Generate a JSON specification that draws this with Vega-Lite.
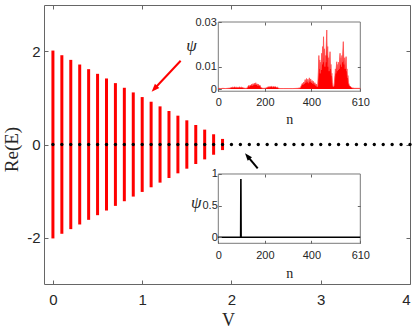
{
  "$schema": "https://vega.github.io/schema/vega-lite/v6.json",
  "width": 366,
  "height": 279,
  "autosize": "none",
  "padding": {"left": 44, "top": 5, "right": 5, "bottom": 44},
  "background": "white",
  "config": {
    "view": {"stroke": null},
    "axis": {
      "grid": false,
      "labelFont": "Liberation Sans",
      "labelColor": "#262626",
      "tickColor": "#666666",
      "domainColor": "#666666",
      "titleFont": "Liberation Serif",
      "titleFontWeight": "normal",
      "titleColor": "#262626"
    }
  },
  "datasets": {
    "bars": [
      {"V": 0.0, "lo": -2.02, "hi": 2.02},
      {"V": 0.1, "lo": -1.92, "hi": 1.92},
      {"V": 0.2, "lo": -1.82, "hi": 1.82},
      {"V": 0.3, "lo": -1.72, "hi": 1.72},
      {"V": 0.4, "lo": -1.62, "hi": 1.62},
      {"V": 0.5, "lo": -1.52, "hi": 1.52},
      {"V": 0.6, "lo": -1.42, "hi": 1.42},
      {"V": 0.7, "lo": -1.32, "hi": 1.32},
      {"V": 0.8, "lo": -1.22, "hi": 1.22},
      {"V": 0.9, "lo": -1.12, "hi": 1.12},
      {"V": 1.0, "lo": -1.02, "hi": 1.02},
      {"V": 1.1, "lo": -0.92, "hi": 0.92},
      {"V": 1.2, "lo": -0.82, "hi": 0.82},
      {"V": 1.3, "lo": -0.72, "hi": 0.72},
      {"V": 1.4, "lo": -0.62, "hi": 0.62},
      {"V": 1.5, "lo": -0.52, "hi": 0.52},
      {"V": 1.6, "lo": -0.42, "hi": 0.42},
      {"V": 1.7, "lo": -0.32, "hi": 0.32},
      {"V": 1.8, "lo": -0.22, "hi": 0.22},
      {"V": 1.9, "lo": -0.12, "hi": 0.12}
    ],
    "dots": [
      {"V": 0.0, "E": 0}, {"V": 0.1, "E": 0}, {"V": 0.2, "E": 0}, {"V": 0.3, "E": 0}, {"V": 0.4, "E": 0},
      {"V": 0.5, "E": 0}, {"V": 0.6, "E": 0}, {"V": 0.7, "E": 0}, {"V": 0.8, "E": 0}, {"V": 0.9, "E": 0},
      {"V": 1.0, "E": 0}, {"V": 1.1, "E": 0}, {"V": 1.2, "E": 0}, {"V": 1.3, "E": 0}, {"V": 1.4, "E": 0},
      {"V": 1.5, "E": 0}, {"V": 1.6, "E": 0}, {"V": 1.7, "E": 0}, {"V": 1.8, "E": 0}, {"V": 1.9, "E": 0},
      {"V": 2.0, "E": 0}, {"V": 2.1, "E": 0}, {"V": 2.2, "E": 0}, {"V": 2.3, "E": 0}, {"V": 2.4, "E": 0},
      {"V": 2.5, "E": 0}, {"V": 2.6, "E": 0}, {"V": 2.7, "E": 0}, {"V": 2.8, "E": 0}, {"V": 2.9, "E": 0},
      {"V": 3.0, "E": 0}, {"V": 3.1, "E": 0}, {"V": 3.2, "E": 0}, {"V": 3.3, "E": 0}, {"V": 3.4, "E": 0},
      {"V": 3.5, "E": 0}, {"V": 3.6, "E": 0}, {"V": 3.7, "E": 0}, {"V": 3.8, "E": 0}, {"V": 3.9, "E": 0},
      {"V": 4.0, "E": 0}
    ],
    "psi1": [
      {"n": 0, "psi": 0.0003}, {"n": 10, "psi": 0.0002}, {"n": 20, "psi": 0.0003}, {"n": 30, "psi": 0.0002},
      {"n": 40, "psi": 0.0003}, {"n": 50, "psi": 0.0004}, {"n": 55, "psi": 0.0006}, {"n": 60, "psi": 0.0008},
      {"n": 65, "psi": 0.0007}, {"n": 70, "psi": 0.0009}, {"n": 75, "psi": 0.0007}, {"n": 80, "psi": 0.0008},
      {"n": 85, "psi": 0.0006}, {"n": 90, "psi": 0.0009}, {"n": 95, "psi": 0.0007}, {"n": 100, "psi": 0.0008},
      {"n": 105, "psi": 0.0006}, {"n": 110, "psi": 0.0004}, {"n": 118, "psi": 0.0003}, {"n": 125, "psi": 0.0005},
      {"n": 128, "psi": 0.0012}, {"n": 131, "psi": 0.0016}, {"n": 134, "psi": 0.0011}, {"n": 137, "psi": 0.0018},
      {"n": 140, "psi": 0.0014}, {"n": 143, "psi": 0.0021}, {"n": 146, "psi": 0.0015}, {"n": 149, "psi": 0.0024},
      {"n": 152, "psi": 0.0017}, {"n": 155, "psi": 0.0026}, {"n": 158, "psi": 0.0019}, {"n": 161, "psi": 0.0028},
      {"n": 164, "psi": 0.0018}, {"n": 167, "psi": 0.0023}, {"n": 170, "psi": 0.0015}, {"n": 173, "psi": 0.0021},
      {"n": 176, "psi": 0.0013}, {"n": 179, "psi": 0.0017}, {"n": 182, "psi": 0.0009}, {"n": 186, "psi": 0.0004},
      {"n": 195, "psi": 0.0003}, {"n": 205, "psi": 0.0004}, {"n": 210, "psi": 0.0007}, {"n": 214, "psi": 0.0010},
      {"n": 218, "psi": 0.0008}, {"n": 222, "psi": 0.0011}, {"n": 226, "psi": 0.0009}, {"n": 230, "psi": 0.0012},
      {"n": 234, "psi": 0.0008}, {"n": 238, "psi": 0.0011}, {"n": 242, "psi": 0.0009}, {"n": 246, "psi": 0.0010},
      {"n": 250, "psi": 0.0007}, {"n": 254, "psi": 0.0008}, {"n": 258, "psi": 0.0004}, {"n": 265, "psi": 0.0002},
      {"n": 280, "psi": 0.0002}, {"n": 300, "psi": 0.0002}, {"n": 320, "psi": 0.0002}, {"n": 340, "psi": 0.0003},
      {"n": 352, "psi": 0.0005}, {"n": 358, "psi": 0.0018}, {"n": 361, "psi": 0.0025}, {"n": 364, "psi": 0.0019},
      {"n": 367, "psi": 0.0031}, {"n": 370, "psi": 0.0024}, {"n": 373, "psi": 0.0042}, {"n": 376, "psi": 0.0028},
      {"n": 379, "psi": 0.0047}, {"n": 382, "psi": 0.0030}, {"n": 385, "psi": 0.0044}, {"n": 388, "psi": 0.0026},
      {"n": 391, "psi": 0.0050}, {"n": 394, "psi": 0.0032}, {"n": 397, "psi": 0.0045}, {"n": 400, "psi": 0.0027},
      {"n": 403, "psi": 0.0038}, {"n": 406, "psi": 0.0024}, {"n": 409, "psi": 0.0034}, {"n": 412, "psi": 0.0020},
      {"n": 415, "psi": 0.0028}, {"n": 418, "psi": 0.0016}, {"n": 421, "psi": 0.0022}, {"n": 424, "psi": 0.0010},
      {"n": 427, "psi": 0.0012}, {"n": 430, "psi": 0.0080}, {"n": 432, "psi": 0.0150}, {"n": 434, "psi": 0.0090},
      {"n": 436, "psi": 0.0130}, {"n": 438, "psi": 0.0070}, {"n": 440, "psi": 0.0120}, {"n": 442, "psi": 0.0085},
      {"n": 444, "psi": 0.0160}, {"n": 446, "psi": 0.0110}, {"n": 448, "psi": 0.0190}, {"n": 450, "psi": 0.0120},
      {"n": 452, "psi": 0.0234}, {"n": 454, "psi": 0.0140}, {"n": 456, "psi": 0.0180}, {"n": 458, "psi": 0.0100},
      {"n": 460, "psi": 0.0150}, {"n": 462, "psi": 0.0120}, {"n": 464, "psi": 0.0200}, {"n": 466, "psi": 0.0264},
      {"n": 468, "psi": 0.0150}, {"n": 470, "psi": 0.0190}, {"n": 472, "psi": 0.0100}, {"n": 474, "psi": 0.0140},
      {"n": 476, "psi": 0.0080}, {"n": 478, "psi": 0.0130}, {"n": 480, "psi": 0.0167}, {"n": 482, "psi": 0.0090},
      {"n": 484, "psi": 0.0110}, {"n": 486, "psi": 0.0060}, {"n": 488, "psi": 0.0070}, {"n": 490, "psi": 0.0030},
      {"n": 493, "psi": 0.0010}, {"n": 497, "psi": 0.0012}, {"n": 501, "psi": 0.0060}, {"n": 503, "psi": 0.0090},
      {"n": 505, "psi": 0.0070}, {"n": 507, "psi": 0.0100}, {"n": 509, "psi": 0.0122}, {"n": 511, "psi": 0.0080},
      {"n": 513, "psi": 0.0110}, {"n": 515, "psi": 0.0085}, {"n": 517, "psi": 0.0120}, {"n": 519, "psi": 0.0090},
      {"n": 521, "psi": 0.0130}, {"n": 523, "psi": 0.0160}, {"n": 525, "psi": 0.0110}, {"n": 527, "psi": 0.0140},
      {"n": 529, "psi": 0.0100}, {"n": 531, "psi": 0.0150}, {"n": 533, "psi": 0.0120}, {"n": 535, "psi": 0.0170},
      {"n": 537, "psi": 0.0212}, {"n": 539, "psi": 0.0130}, {"n": 541, "psi": 0.0110}, {"n": 543, "psi": 0.0140},
      {"n": 545, "psi": 0.0090}, {"n": 547, "psi": 0.0120}, {"n": 549, "psi": 0.0145}, {"n": 551, "psi": 0.0080},
      {"n": 553, "psi": 0.0090}, {"n": 555, "psi": 0.0050}, {"n": 557, "psi": 0.0060}, {"n": 559, "psi": 0.0030},
      {"n": 563, "psi": 0.0015}, {"n": 567, "psi": 0.0012}, {"n": 571, "psi": 0.0008}, {"n": 575, "psi": 0.0005},
      {"n": 585, "psi": 0.0003}, {"n": 595, "psi": 0.0003}, {"n": 610, "psi": 0.0003}
    ],
    "psi2": [
      {"n": 0, "psi": 0}, {"n": 96, "psi": 0}, {"n": 97, "psi": 0.92}, {"n": 98, "psi": 0}, {"n": 610, "psi": 0}
    ]
  },
  "layer": [
    {
      "layer": [
        {
          "data": {"name": "bars"},
          "mark": {"type": "rule", "color": "#ff0000", "strokeWidth": 3, "strokeCap": "butt"},
          "encoding": {
            "x": {
              "field": "V", "type": "quantitative",
              "scale": {"domain": [-0.1, 4], "nice": false, "zero": false},
              "axis": {
                "orient": "bottom", "values": [0, 1, 2, 3, 4], "format": "d", "tickSize": -4, "labelPadding": 12,
                "labelFontSize": 15, "title": "V", "titleFontSize": 18,
                "titleX": 184, "titleY": 41, "titleBaseline": "alphabetic", "titleAlign": "center"
              }
            },
            "y": {
              "field": "lo", "type": "quantitative",
              "scale": {"domain": [-3, 3], "nice": false, "zero": false},
              "axis": {
                "orient": "left", "values": [-2, 0, 2], "labelExpr": "'' + datum.value", "tickSize": -4, "labelPadding": 8,
                "labelFontSize": 15, "title": "Re(E)", "titleFontSize": 19,
                "titleX": -32.5, "titleY": 144, "titleAngle": -90, "titleBaseline": "middle", "titleAlign": "center"
              }
            },
            "y2": {"field": "hi"}
          }
        },
        {
          "data": {"name": "dots"},
          "mark": {"type": "point", "filled": true, "color": "#000000", "opacity": 1, "size": 11, "shape": "circle"},
          "encoding": {
            "x": {"field": "V", "type": "quantitative"},
            "y": {"field": "E", "type": "quantitative"}
          }
        },
        {
          "data": {"values": [{}]},
          "mark": {"type": "rule", "color": "#ff0000", "strokeWidth": 2},
          "encoding": {
            "x": {"datum": 1.431, "type": "quantitative"},
            "y": {"datum": 1.802, "type": "quantitative"},
            "x2": {"datum": 1.137},
            "y2": {"datum": 1.198}
          }
        },
        {
          "data": {"values": [{}]},
          "mark": {"type": "point", "filled": true, "color": "#ff0000", "opacity": 1, "size": 64, "angle": 223, "shape": "M0,0L0.75,2L-0.75,2Z"},
          "encoding": {
            "x": {"datum": 1.106, "type": "quantitative"},
            "y": {"datum": 1.135, "type": "quantitative"}
          }
        },
        {
          "data": {"values": [{}]},
          "mark": {"type": "rule", "color": "#000000", "strokeWidth": 2},
          "encoding": {
            "x": {"datum": 2.294, "type": "quantitative"},
            "y": {"datum": -0.512, "type": "quantitative"},
            "x2": {"datum": 2.181},
            "y2": {"datum": -0.255}
          }
        },
        {
          "data": {"values": [{}]},
          "mark": {"type": "point", "filled": true, "color": "#000000", "opacity": 1, "size": 56, "angle": 320, "shape": "M0,0L0.75,2L-0.75,2Z"},
          "encoding": {
            "x": {"datum": 2.152, "type": "quantitative"},
            "y": {"datum": -0.189, "type": "quantitative"}
          }
        }
      ]
    },
    {
      "data": {"values": [{}]},
      "mark": {"type": "point", "opacity": 0},
      "encoding": {
        "x": {
          "datum": 0, "type": "quantitative",
          "scale": {"domain": [-0.1, 4], "nice": false, "zero": false},
          "axis": {"orient": "top", "values": [0, 1, 2, 3, 4], "labels": false, "tickSize": -4, "title": null}
        },
        "y": {
          "datum": 0, "type": "quantitative",
          "scale": {"domain": [-3, 3], "nice": false, "zero": false},
          "axis": {"orient": "right", "values": [-2, 0, 2], "labels": false, "tickSize": -4, "title": null}
        }
      }
    },
    {
      "layer": [
        {
          "data": {"values": [{}]},
          "mark": {"type": "rect", "fill": null, "stroke": "#7a7a7a", "strokeWidth": 1},
          "encoding": {
            "x": {
              "datum": 0, "type": "quantitative",
              "scale": {"domain": [-748.75, 823.5], "nice": false, "zero": false},
              "axis": {
                "orient": "bottom", "offset": -192.7, "values": [0, 200, 400, 610], "format": "d", "domain": false,
                "tickSize": -3, "labelPadding": 8, "labelFontSize": 11, "zindex": 1,
                "title": "n", "titleFontSize": 14, "titleX": 245.3, "titleY": 32,
                "titleBaseline": "alphabetic", "titleAlign": "center", "titleAngle": 0
              }
            },
            "x2": {"datum": 610},
            "y": {
              "datum": -0.001, "type": "quantitative",
              "scale": {"domain": [-0.087313, 0.037612], "nice": false, "zero": false},
              "axis": {
                "orient": "left", "offset": -174.3, "values": [0, 0.01, 0.03], "format": "~g", "domain": false,
                "tickSize": -3, "labelPadding": 5, "labelFontSize": 11, "zindex": 1,
                "title": "ψ", "titleFontSize": 17, "titleFontStyle": "italic", "titleAngle": 0,
                "titleX": -27.3, "titleY": 40.5, "titleAlign": "center", "titleBaseline": "middle"
              }
            },
            "y2": {"datum": 0.03}
          }
        },
        {
          "data": {"name": "psi1"},
          "mark": {"type": "area", "color": "#ff0000", "opacity": 1},
          "encoding": {
            "x": {"field": "n", "type": "quantitative"},
            "y": {"field": "psi", "type": "quantitative"},
            "y2": {"datum": 0}
          }
        },
        {
          "data": {"name": "psi1"},
          "mark": {"type": "line", "color": "#ff4d4d", "strokeWidth": 0.8},
          "encoding": {
            "x": {"field": "n", "type": "quantitative"},
            "y": {"field": "psi", "type": "quantitative"}
          }
        }
      ]
    },
    {
      "data": {"values": [{}]},
      "mark": {"type": "point", "opacity": 0},
      "encoding": {
        "x": {
          "datum": 0, "type": "quantitative",
          "scale": {"domain": [-748.75, 823.5], "nice": false, "zero": false},
          "axis": {"orient": "top", "offset": -17, "values": [200, 400], "labels": false, "domain": false, "tickSize": -3, "title": null, "zindex": 1}
        },
        "y": {
          "datum": 0, "type": "quantitative",
          "scale": {"domain": [-0.087313, 0.037612], "nice": false, "zero": false},
          "axis": {"orient": "right", "offset": -49.7, "values": [0.01], "labels": false, "domain": false, "tickSize": -3, "title": null, "zindex": 1}
        }
      }
    },
    {
      "layer": [
        {
          "data": {"values": [{}]},
          "mark": {"type": "rect", "fill": null, "stroke": "#7a7a7a", "strokeWidth": 1},
          "encoding": {
            "x": {
              "datum": 0, "type": "quantitative",
              "scale": {"domain": [-748.75, 823.5], "nice": false, "zero": false},
              "axis": {
                "orient": "bottom", "offset": -40.7, "values": [0, 200, 400, 610], "format": "d", "domain": false,
                "tickSize": -3, "labelPadding": 9, "labelFontSize": 11, "zindex": 1,
                "title": "n", "titleFontSize": 14, "titleX": 245.3, "titleY": 34,
                "titleBaseline": "alphabetic", "titleAlign": "center", "titleAngle": 0
              }
            },
            "x2": {"datum": 610},
            "y": {
              "datum": -0.095, "type": "quantitative",
              "scale": {"domain": [-0.7378, 3.6698], "nice": false, "zero": false},
              "axis": {
                "orient": "left", "offset": -174.3, "values": [0, 0.5, 1], "format": "~g", "domain": false,
                "tickSize": -3, "labelPadding": 4, "labelFontSize": 11, "zindex": 1,
                "title": "ψ", "titleFontSize": 17, "titleFontStyle": "italic", "titleAngle": 0,
                "titleX": -22.5, "titleY": 197, "titleAlign": "center", "titleBaseline": "middle"
              }
            },
            "y2": {"datum": 1}
          }
        },
        {
          "data": {"name": "psi2"},
          "mark": {"type": "line", "color": "#000000", "strokeWidth": 1.6, "strokeJoin": "bevel"},
          "encoding": {
            "x": {"field": "n", "type": "quantitative"},
            "y": {"field": "psi", "type": "quantitative"}
          }
        }
      ]
    },
    {
      "data": {"values": [{}]},
      "mark": {"type": "point", "opacity": 0},
      "encoding": {
        "x": {
          "datum": 0, "type": "quantitative",
          "scale": {"domain": [-748.75, 823.5], "nice": false, "zero": false},
          "axis": {"orient": "top", "offset": -169, "values": [200, 400], "labels": false, "domain": false, "tickSize": -3, "title": null, "zindex": 1}
        },
        "y": {
          "datum": 0, "type": "quantitative",
          "scale": {"domain": [-0.7378, 3.6698], "nice": false, "zero": false},
          "axis": {"orient": "right", "offset": -49.7, "values": [0.5], "labels": false, "domain": false, "tickSize": -3, "title": null, "zindex": 1}
        }
      }
    }
  ],
  "resolve": {
    "scale": {"x": "independent", "y": "independent"},
    "axis": {"x": "independent", "y": "independent"}
  }
}
